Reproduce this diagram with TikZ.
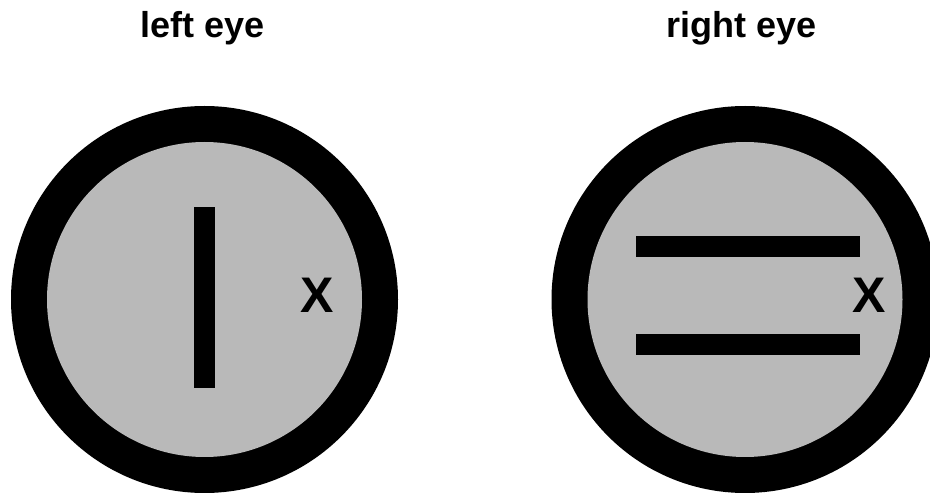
\documentclass[tikz,border=0pt]{standalone}
\usepackage{fontspec}
\setmainfont{Liberation Sans}
\definecolor{eyegray}{HTML}{B9B9B9}
\tikzset{
  eyeouter/.style={fill=black},
  eyeinner/.style={fill=eyegray},
  bar/.style={fill=black},
  title/.style={font=\bfseries\fontsize{36}{43}\selectfont, anchor=base, inner sep=0pt},
  xmark/.style={font=\bfseries\fontsize{50}{60}\selectfont, anchor=base, inner sep=0pt}
}
\begin{document}
\begin{tikzpicture}[x=1pt,y=-1pt]
\useasboundingbox (0,0) rectangle (930,494);
\clip (0,0) rectangle (930,494);
\fill[white] (0,0) rectangle (930,494);
% left eye
\fill[eyeouter] (204.5,299.5) circle (193.5);
\fill[eyeinner] (204.5,299.5) circle (157.5);
\fill[bar] (193.5,207) rectangle (214.5,388);
\node[xmark] (xl) at (317.5,313) {X};
\node[title] (tl) at (203,38) {left eye};
% right eye
\fill[eyeouter] (745,299.5) circle (193.5);
\fill[eyeinner] (745,299.5) circle (157.5);
\fill[bar] (636,236) rectangle (860,257);
\fill[bar] (636,334) rectangle (860,355);
\node[xmark] (xr) at (869.5,313) {X};
\node[title] (tr) at (741.5,38) {right eye};
\end{tikzpicture}
\end{document}
